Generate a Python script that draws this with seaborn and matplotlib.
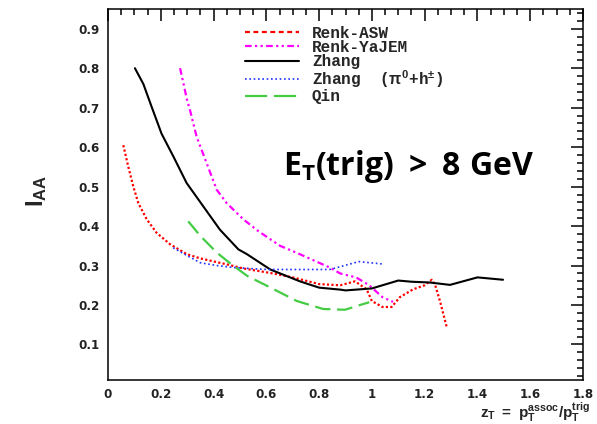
import numpy as np
import pandas as pd
import seaborn as sns
import matplotlib
matplotlib.use("Agg")
import matplotlib.pyplot as plt
from matplotlib.lines import Line2D
from matplotlib.ticker import MultipleLocator, FuncFormatter

# I_AA vs z_T model curves, E_T(trig) > 8 GeV
renk_asw_x = [0.058, 0.077, 0.096, 0.115, 0.147, 0.184, 0.235, 0.298, 0.35, 0.45, 0.51, 0.625,
              0.70, 0.80, 0.88, 0.936, 0.98, 1.00, 1.04, 1.075, 1.106, 1.157, 1.20, 1.227,
              1.24, 1.258, 1.284]
renk_asw_y = [0.605, 0.55, 0.50, 0.458, 0.417, 0.383, 0.354, 0.329, 0.318, 0.303, 0.293, 0.28,
              0.27, 0.253, 0.25, 0.26, 0.24, 0.21, 0.195, 0.195, 0.22, 0.24, 0.25, 0.264,
              0.25, 0.21, 0.143]

renk_yajem_x = [0.273, 0.285, 0.30, 0.311, 0.336, 0.374, 0.412, 0.45, 0.513, 0.57, 0.652,
                0.716, 0.80, 0.84, 0.88, 0.94, 0.99, 1.04, 1.08]
renk_yajem_y = [0.80, 0.764, 0.718, 0.693, 0.626, 0.559, 0.492, 0.458, 0.417, 0.387, 0.35,
                0.332, 0.307, 0.295, 0.28, 0.27, 0.25, 0.22, 0.208]

zhang_x = [0.102, 0.134, 0.166, 0.203, 0.248, 0.298, 0.361, 0.424, 0.494, 0.526, 0.615, 0.727,
           0.80, 0.88, 0.90, 1.00, 1.10, 1.15, 1.22, 1.296, 1.40, 1.497]
zhang_y = [0.80, 0.76, 0.701, 0.634, 0.576, 0.509, 0.45, 0.391, 0.341, 0.329, 0.29, 0.26,
           0.244, 0.239, 0.237, 0.242, 0.262, 0.259, 0.257, 0.251, 0.27, 0.264]

zhang_pi_x = [0.247, 0.30, 0.35, 0.413, 0.475, 0.60, 0.727, 0.84, 0.88, 0.95, 1.04]
zhang_pi_y = [0.345, 0.325, 0.307, 0.30, 0.295, 0.29, 0.29, 0.29, 0.297, 0.31, 0.304]

qin_x = [0.304, 0.35, 0.412, 0.462, 0.527, 0.625, 0.716, 0.815, 0.898, 0.955, 0.99]
qin_y = [0.412, 0.375, 0.333, 0.306, 0.274, 0.241, 0.21, 0.19, 0.188, 0.20, 0.207]

labels = ["Renk-ASW", "Renk-YaJEM", "Zhang", r"Zhang  ($\pi^{0}$+h$^{\pm}$)", "Qin"]
x_ticks = [0, 0.2, 0.4, 0.6, 0.8, 1.0, 1.2, 1.4, 1.6, 1.8]
y_ticks = [0.1, 0.2, 0.3, 0.4, 0.5, 0.6, 0.7, 0.8, 0.9]

sns.set_theme(style="white")
plt.rcParams.update({
    "font.family": ["DejaVu Sans"],
    "mathtext.fontset": "custom",
    "mathtext.rm": "Liberation Sans:bold",
    "mathtext.bf": "Liberation Sans:bold",
    "mathtext.it": "Liberation Sans:bold",
    "mathtext.sf": "Open Sans:bold",
    "axes.edgecolor": "black",
    "axes.linewidth": 1.1,
})

fig = plt.figure(figsize=(5.97, 4.24), dpi=100)
ax = fig.add_axes([108 / 597, 44 / 424, 475 / 597, 371 / 424])

styles = [
    (renk_asw_x, renk_asw_y, "#ff0000", (0, (1.0, 1.0)), 1.6),
    (renk_yajem_x, renk_yajem_y, "#ff00ff", (0, (3.0, 1.5, 1.0, 1.5, 1.0, 1.5)), 1.6),
    (zhang_x, zhang_y, "black", "-", 1.5),
    (zhang_pi_x, zhang_pi_y, "#2030ff", (0, (1.0, 1.6)), 1.2),
    (qin_x, qin_y, "#44cc44", (0, (7.0, 3.0)), 1.6),
]
for (xs, ys, col, ls, lw), lab in zip(styles, labels):
    df = pd.DataFrame({"z_T": xs, "I_AA": ys})
    sns.lineplot(data=df, x="z_T", y="I_AA", ax=ax, color=col, linestyle=ls, lw=lw,
                 estimator=None, sort=False)

ax.set_xlim(0, 1.8)
ax.set_ylim(0.01, 0.95)
ax.set_xticks(x_ticks)
ax.set_yticks(y_ticks)
ax.xaxis.set_minor_locator(MultipleLocator(0.05))
ax.yaxis.set_minor_locator(MultipleLocator(0.02))
ax.xaxis.set_major_formatter(FuncFormatter(lambda v, p: f"{v:g}"))
ax.tick_params(which="both", direction="in", top=True, right=True, width=1.1, color="black")
ax.tick_params(which="major", length=8.5)
ax.tick_params(which="minor", length=4.5)
ax.tick_params(axis="x", which="major", pad=6, labelsize=8.6)
ax.tick_params(axis="y", which="major", pad=6, labelsize=8.6)
for t in ax.get_xticklabels() + ax.get_yticklabels():
    t.set_fontweight("bold")
    t.set_color("#222222")
for s in ax.spines.values():
    s.set_visible(True)

ax.set_xlabel(r"$\mathbf{z_T\ =\ p_T^{assoc}/p_T^{trig}}$", fontsize=11, ha="right")
ax.xaxis.set_label_coords(1.015, -0.056)
ax.set_ylabel(r"$\mathbf{I_{AA}}$", fontsize=17, rotation=90)
ax.yaxis.set_label_coords(-0.125, 0.51)

ax.text(0.663, 0.53, r"$\mathsf{E_T(trig)\ >\ 8\ GeV}$", fontsize=23, ha="left",
        va="baseline", color="black")

handles = [
    Line2D([], [], color="#ff0000", lw=1.6, linestyle=(0, (2.2, 1.6))),
    Line2D([], [], color="#ff00ff", lw=1.6, linestyle=(0, (3.0, 1.5, 1.0, 1.5, 1.0, 1.5))),
    Line2D([], [], color="black", lw=1.5, linestyle="-"),
    Line2D([], [], color="#2030ff", lw=1.2, linestyle=(0, (1.0, 1.6))),
    Line2D([], [], color="#44cc44", lw=1.6, linestyle=(0, (10.0, 3.0))),
]
leg = ax.legend(handles, labels, loc="upper left", bbox_to_anchor=(0.288, 0.955),
                frameon=False, borderpad=0, borderaxespad=0, handlelength=3.4,
                handletextpad=0.8, labelspacing=-0.05,
                prop={"family": "Liberation Mono", "weight": "bold", "size": 11.5})

fig.savefig("out.png", dpi=100, facecolor="white")
